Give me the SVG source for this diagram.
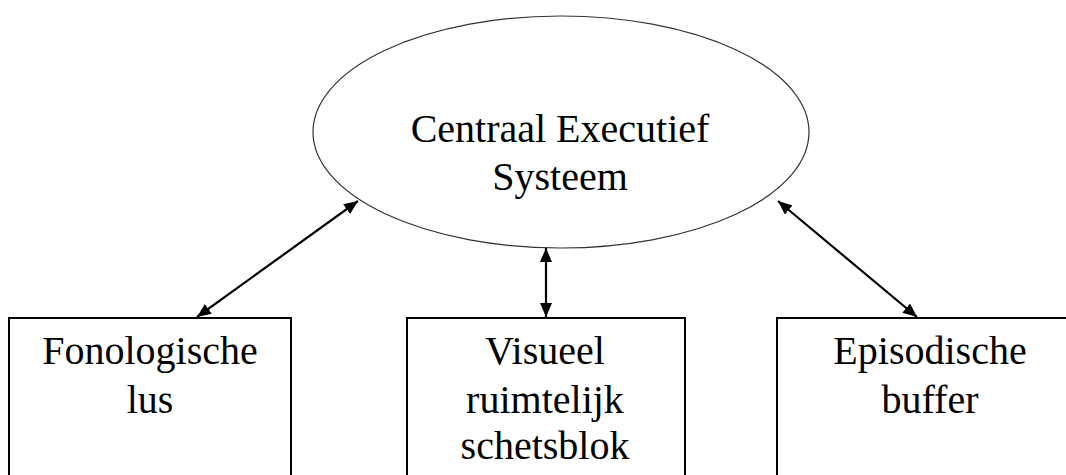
<svg xmlns="http://www.w3.org/2000/svg" width="1066" height="475" viewBox="0 0 1066 475">
<defs>
<marker id="ah" viewBox="0 0 14 12" refX="14" refY="6" markerWidth="14" markerHeight="12" markerUnits="userSpaceOnUse" orient="auto-start-reverse">
<path d="M0,0 L14,6 L0,12 Z" fill="#000"/>
</marker>
<style>
.t{font-family:"Liberation Serif","Times New Roman",serif;font-size:40px;fill:#000;text-anchor:middle}
.box{fill:#fff;stroke:#000;stroke-width:2}
.con{stroke:#000;stroke-width:2.2;fill:none;marker-start:url(#ah);marker-end:url(#ah)}
</style>
</defs>
<rect width="1066" height="475" fill="#fff"/>
<g id="ces">
<ellipse cx="561" cy="132" rx="248" ry="116" fill="#fff" stroke="#333" stroke-width="1.2"/>
<text class="t" x="560" y="142">Centraal Executief</text>
<text class="t" x="560" y="190">Systeem</text>
</g>
<g id="fonologische">
<rect class="box" x="9" y="318" width="282" height="170"/>
<text class="t" x="150" y="364">Fonologische</text>
<text class="t" x="150" y="413">lus</text>
</g>
<g id="visueel">
<rect class="box" x="407" y="318" width="278" height="170"/>
<text class="t" x="545" y="364">Visueel</text>
<text class="t" x="545" y="413">ruimtelijk</text>
<text class="t" x="545" y="459">schetsblok</text>
</g>
<g id="episodische">
<rect class="box" x="777" y="318" width="306" height="170"/>
<text class="t" x="930" y="364">Episodische</text>
<text class="t" x="930" y="413">buffer</text>
</g>
<g id="connectors">
<path class="con" d="M197,317 L358,201"/>
<path class="con" d="M546,317 L546,248"/>
<path class="con" d="M917,317 L778,201"/>
</g>
</svg>
